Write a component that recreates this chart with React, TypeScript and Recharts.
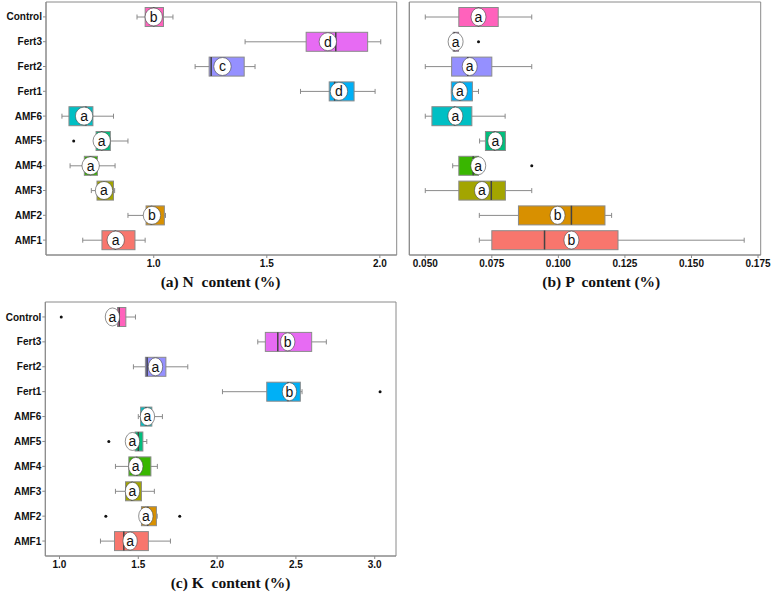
import React from 'react'
import { ComposedChart, Bar, Scatter, XAxis, YAxis, CartesianGrid } from 'recharts'

const groups = ['Control', 'Fert3', 'Fert2', 'Fert1', 'AMF6', 'AMF5', 'AMF4', 'AMF3', 'AMF2', 'AMF1']
const fills = ['#FF62BC', '#E76BF3', '#9590FF', '#00B0F6', '#00BFC4', '#00BF7D', '#39B600', '#A3A500', '#D89000', '#F8766D']

// (a) N content (%)
const nLow = [0.926, 1.404, 1.183, 1.649, 0.594, 0.745, 0.63, 0.724, 0.886, 0.686]
const nQ1 = [0.962, 1.674, 1.245, 1.776, 0.625, 0.745, 0.693, 0.749, 0.966, 0.771]
const nMed = [1.0, 1.805, 1.254, 1.8, 0.7, 0.77, 0.72, 0.78, 0.99, 0.83]
const nQ3 = [1.043, 1.946, 1.4, 1.886, 0.731, 0.808, 0.751, 0.822, 1.047, 0.917]
const nHigh = [1.085, 2.004, 1.448, 1.979, 0.822, 0.886, 0.829, 0.827, 1.052, 0.962]
const nMean = [1.0, 1.77, 1.304, 1.819, 0.692, 0.77, 0.721, 0.78, 0.992, 0.832]
const nLetters = ['b', 'd', 'c', 'd', 'a', 'a', 'a', 'a', 'b', 'a']
const nOut1 = [null, null, null, null, null, 0.646, null, null, null, null]
const nOut2 = [null, null, null, null, null, null, null, null, null, null]

// (b) P content (%)
const pLow = [0.05, 0.06, 0.05, 0.0598, 0.05, 0.0704, 0.0603, 0.05, 0.0703, 0.0703]
const pQ1 = [0.0626, 0.0605, 0.0599, 0.0598, 0.0525, 0.0726, 0.0626, 0.0626, 0.085, 0.075]
const pMed = [0.07, 0.061, 0.066, 0.063, 0.061, 0.076, 0.068, 0.0748, 0.1049, 0.0948]
const pQ3 = [0.0774, 0.0625, 0.075, 0.0677, 0.0675, 0.0801, 0.07, 0.0801, 0.1175, 0.1224]
const pHigh = [0.09, 0.063, 0.09, 0.07, 0.08, 0.0801, 0.07, 0.09, 0.12, 0.1698]
const pMean = [0.07, 0.0614, 0.0667, 0.063, 0.0613, 0.0763, 0.0699, 0.0713, 0.0997, 0.1049]
const pLetters = ['a', 'a', 'a', 'a', 'a', 'a', 'a', 'a', 'b', 'b']
const pOut1 = [null, 0.07, null, null, null, null, 0.09, null, null, null]
const pOut2 = [null, null, null, null, null, null, null, null, null, null]

// (c) K content (%)
const kLow = [1.34, 2.258, 1.469, 2.034, 1.5, 1.48, 1.355, 1.355, 1.52, 1.26]
const kQ1 = [1.368, 2.306, 1.545, 2.315, 1.515, 1.48, 1.44, 1.419, 1.52, 1.349]
const kMed = [1.379, 2.385, 1.556, 2.45, 1.55, 1.5, 1.49, 1.46, 1.56, 1.408]
const kQ3 = [1.421, 2.6, 1.675, 2.528, 1.586, 1.529, 1.58, 1.52, 1.615, 1.564]
const kHigh = [1.482, 2.693, 1.814, 2.539, 1.653, 1.554, 1.621, 1.602, 1.62, 1.704]
const kMean = [1.336, 2.448, 1.609, 2.459, 1.558, 1.463, 1.484, 1.463, 1.548, 1.448]
const kLetters = ['a', 'b', 'a', 'b', 'a', 'a', 'a', 'a', 'a', 'a']
const kOut1 = [1.011, null, null, 3.034, null, 1.313, null, null, 1.294, null]
const kOut2 = [null, null, null, null, null, null, null, null, 1.763, null]

const nTicks = [1.0, 1.5, 2.0]
const pTicks = [0.05, 0.075, 0.1, 0.125, 0.15, 0.175]
const kTicks = [1.0, 1.5, 2.0, 2.5, 3.0]

function buildRows(low: number[], q1: number[], med: number[], q3: number[], high: number[], mean: number[], letters: string[], out1: (number | null)[], out2: (number | null)[]) {
  return groups.map((name, i) => ({
    name,
    color: fills[i],
    whisker: [low[i], high[i]],
    box: [q1[i], q3[i]],
    med: med[i],
    mean: mean[i],
    letter: letters[i],
    o1: out1[i],
    o2: out2[i],
  }))
}

const nRows = buildRows(nLow, nQ1, nMed, nQ3, nHigh, nMean, nLetters, nOut1, nOut2)
const pRows = buildRows(pLow, pQ1, pMed, pQ3, pHigh, pMean, pLetters, pOut1, pOut2)
const kRows = buildRows(kLow, kQ1, kMed, kQ3, kHigh, kMean, kLetters, kOut1, kOut2)

const GREY = '#8a8a8a'
const SANS = '"Liberation Sans", Arial, sans-serif'

const WhiskerShape = (p: any) => {
  const { x, y, width, height } = p
  if (x == null || isNaN(x)) return <g />
  const cy = y + height / 2
  return (
    <g stroke={GREY} strokeWidth={1}>
      <line x1={x} x2={x + width} y1={cy} y2={cy} />
      <line x1={x} x2={x} y1={y} y2={y + height} />
      <line x1={x + width} x2={x + width} y1={y} y2={y + height} />
    </g>
  )
}

const BoxShape = (p: any) => {
  if (p.x == null || isNaN(p.x)) return <g />
  return <rect x={p.x} y={p.y} width={p.width} height={p.height} fill={p.payload?.color} stroke={GREY} strokeWidth={1} />
}

const MedianShape = (p: any) => {
  if (p.cx == null || isNaN(p.cx)) return <g />
  return <line x1={p.cx} x2={p.cx} y1={p.cy - 9.5} y2={p.cy + 9.5} stroke="#444" strokeWidth={1.5} />
}

const outlierShape = (key: string) => (p: any) => {
  if (p.payload?.[key] == null || p.cx == null || isNaN(p.cx)) return <g />
  return <circle cx={p.cx} cy={p.cy} r={1.5} fill="#111" />
}

const labelShape = (rx: number) => (p: any) => {
  if (p.cx == null || isNaN(p.cx)) return <g />
  return (
    <g>
      <ellipse cx={p.cx} cy={p.cy} rx={rx} ry={9} fill="#fff" stroke="#444" strokeWidth={0.6} />
      <text x={p.cx} y={p.cy} dy="0.35em" textAnchor="middle" fontSize={14} fontFamily={SANS} fill="#111">
        {p.payload?.letter}
      </text>
    </g>
  )
}

function Panel({ rows, domain, ticks, digits, showNames, width, height, yWidth, marginRight, rx }: any) {
  const tickStyle = { fontSize: 10, fontWeight: 700, fill: '#111', fontFamily: SANS }
  return (
    <ComposedChart width={width} height={height} data={rows} layout="vertical" margin={{ top: 2, right: marginRight, left: 0, bottom: 0 }}>
      <CartesianGrid
        yAxisId="a"
        stroke={GREY}
        strokeWidth={1}
        horizontalCoordinatesGenerator={({ offset }: any) => [offset.top, offset.top + offset.height]}
        verticalCoordinatesGenerator={({ offset }: any) => [offset.left, offset.left + offset.width]}
      />
      <XAxis
        type="number"
        domain={domain}
        ticks={ticks}
        allowDataOverflow
        interval={0}
        tickFormatter={(v: number) => v.toFixed(digits)}
        tick={tickStyle}
        tickSize={3}
        tickMargin={2}
        axisLine={{ stroke: GREY }}
        tickLine={{ stroke: GREY }}
        height={20}
      />
      <YAxis
        yAxisId="a"
        type="category"
        dataKey="name"
        width={yWidth}
        padding={{ top: 2.5, bottom: 2.5 }}
        interval={0}
        tick={showNames ? tickStyle : false}
        tickSize={3}
        tickMargin={1}
        axisLine={{ stroke: GREY }}
        tickLine={{ stroke: GREY }}
      />
      <YAxis yAxisId="b" type="category" dataKey="name" hide padding={{ top: 2.5, bottom: 2.5 }} />
      <Bar yAxisId="b" dataKey="whisker" barSize={5} shape={WhiskerShape} isAnimationActive={false} />
      <Bar yAxisId="a" dataKey="box" barSize={19} shape={BoxShape} isAnimationActive={false} />
      <Scatter yAxisId="a" dataKey="med" shape={MedianShape} isAnimationActive={false} />
      <Scatter yAxisId="a" dataKey="o1" shape={outlierShape('o1')} isAnimationActive={false} />
      <Scatter yAxisId="a" dataKey="o2" shape={outlierShape('o2')} isAnimationActive={false} />
      <Scatter yAxisId="a" dataKey="mean" shape={labelShape(rx)} isAnimationActive={false} />
    </ComposedChart>
  )
}

const titleStyle: React.CSSProperties = {
  position: 'absolute',
  width: 240,
  textAlign: 'center',
  fontFamily: '"Liberation Serif", "Times New Roman", serif',
  fontWeight: 700,
  fontSize: 15.5,
  lineHeight: '18px',
  whiteSpace: 'pre',
  color: '#111',
}

export default function App() {
  return (
    <div style={{ position: 'absolute', left: 0, top: 0, width: 776, height: 595, background: '#fff' }}>
      <div style={{ position: 'absolute', left: 0, top: 0 }}>
        <Panel rows={nRows} domain={[0.5235, 2.0745]} ticks={nTicks} digits={1} showNames width={400} height={275} yWidth={46} marginRight={3.3} rx={8.7} />
      </div>
      <div style={{ position: 'absolute', left: 400, top: 0 }}>
        <Panel rows={pRows} domain={[0.044, 0.176]} ticks={pTicks} digits={3} showNames={false} width={376} height={275} yWidth={9.3} marginRight={15.3} rx={7.5} />
      </div>
      <div style={{ position: 'absolute', left: 0, top: 300 }}>
        <Panel rows={kRows} domain={[0.91, 3.135]} ticks={kTicks} digits={1} showNames width={400} height={276} yWidth={45.3} marginRight={4} rx={7.2} />
      </div>
      <div style={{ ...titleStyle, left: 220.5 - 120, top: 273 }}>(a) N  content (%)</div>
      <div style={{ ...titleStyle, left: 601.3 - 120, top: 273 }}>(b) P  content (%)</div>
      <div style={{ ...titleStyle, left: 230.5 - 120, top: 574 }}>(c) K  content (%)</div>
    </div>
  )
}
